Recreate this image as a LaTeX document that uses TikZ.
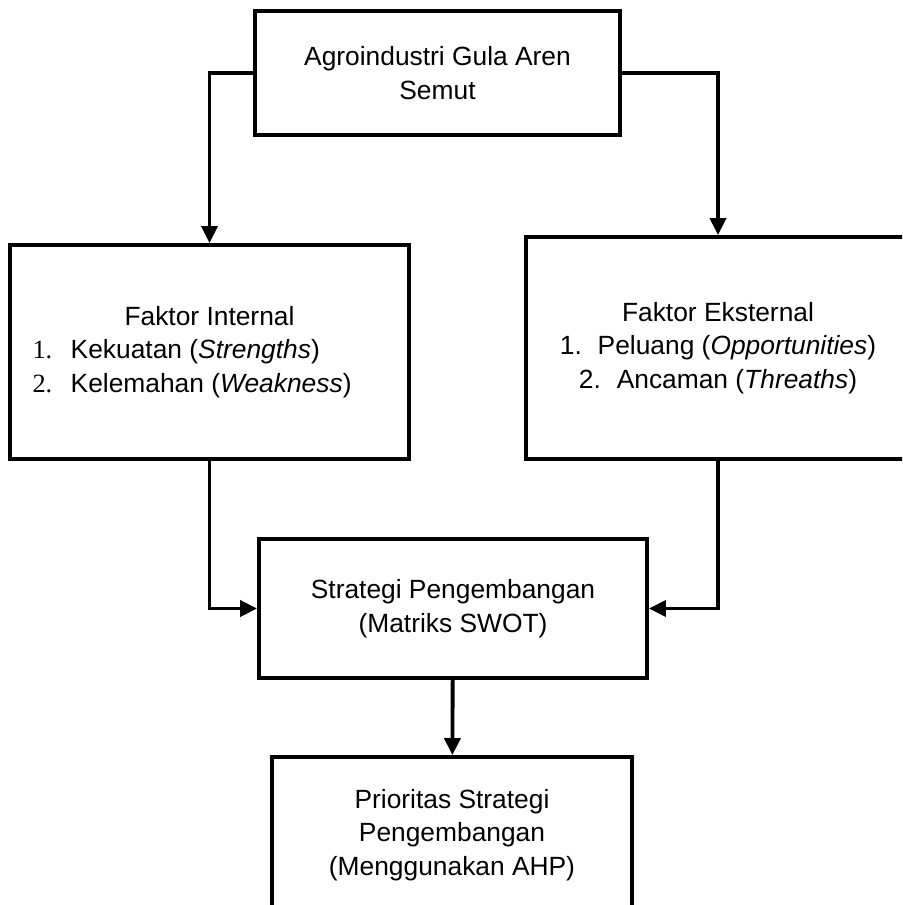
\documentclass[tikz,border=0pt]{standalone}
\usepackage{fontspec}
\setmainfont{Liberation Sans}
\newfontfamily\angka{Liberation Serif}
\usetikzlibrary{arrows.meta}

\begin{document}
\begin{tikzpicture}[>={Triangle[length=0.34cm,width=0.32cm]},line width=2.2pt,
  font=\fontsize{15}{19}\selectfont,
  blok/.style={draw,align=center,inner sep=0pt}]
\useasboundingbox (0,0) rectangle (18.04,-18.1);
\clip (0,0) rectangle (18.04,-18.1);
\node[blok,minimum width=7.3cm,minimum height=2.48cm] (agro) at (8.75,-1.46) {Agroindustri Gula Aren\\Semut};
\node[blok,minimum width=7.98cm,minimum height=4.28cm] (internal) at (4.19,-7.04)
  {Faktor Internal\\
   \hspace*{-0.68cm}\makebox[6.4cm][l]{{\angka 1.}\hspace{0.7em}Kekuatan (\textit{Strengths})}\\
   \hspace*{-0.68cm}\makebox[6.4cm][l]{{\angka 2.}\hspace{0.7em}Kelemahan (\textit{Weakness})}};
\node[blok,minimum width=7.68cm,minimum height=4.44cm] (eksternal) at (14.36,-6.96)
  {Faktor Eksternal\\1.\hspace{0.6em}Peluang (\textit{Opportunities})\\2.\hspace{0.6em}Ancaman (\textit{Threaths})};
\node[blok,minimum width=7.76cm,minimum height=2.78cm] (strategi) at (9.06,-12.17) {Strategi Pengembangan\\(Matriks SWOT)};
\node[blok,minimum width=7.2cm,minimum height=3.12cm] (prioritas) at (9.04,-16.7) {Prioritas Strategi\\Pengembangan\\(Menggunakan AHP)};
% panah
\draw[->] (agro.west) -| (internal.north);
\draw[->] (agro.east) -| (eksternal.north);
\draw[->] (internal.south) |- (strategi.west);
\draw[->] (eksternal.south) |- (strategi.east);
\draw[->] (strategi) -- (prioritas);
\end{tikzpicture}
\end{document}
